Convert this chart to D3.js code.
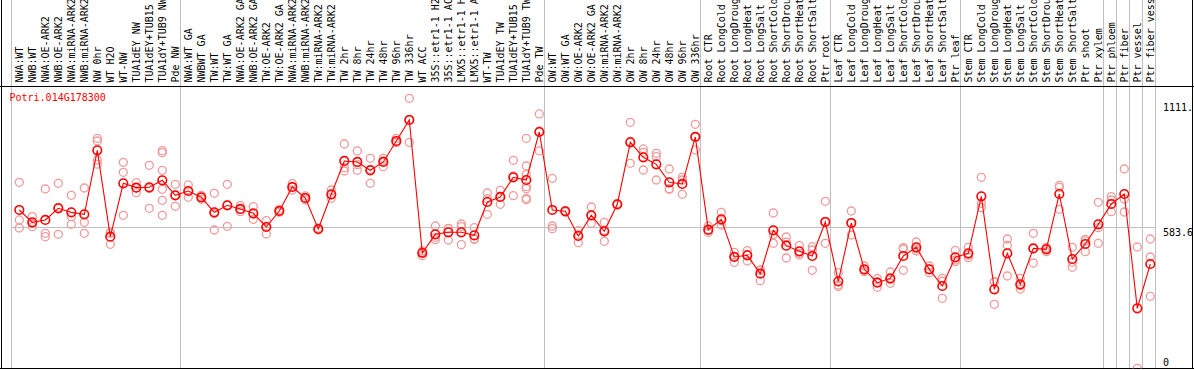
<!DOCTYPE html>
<html><head><meta charset="utf-8">
<script src="https://cdn.jsdelivr.net/npm/d3@7"></script>
<style>body{margin:0;background:#fff;overflow:hidden}</style>
</head><body><svg id="c" width="1194" height="370"></svg>
<script>
const title = "Potri.014G178300";
const categories = [
 "NWA:WT","NWB:WT","NWA:OE-ARK2","NWB:OE-ARK2","NWA:miRNA-ARK2","NWB:miRNA-ARK2","NW 0hr","WT H2O","WT-NW","TUA1dEY NW","TUA1dEY+TUB15 NW","TUA1dY+TUB9 NW","Pde NW",
 "NWA:WT GA","NWBWT GA","TW:WT","TW:WT GA","NWA:OE-ARK2 GA","NWB:OE-ARK2 GA","TW:OE-ARK2","TW:OE-ARK2 GA","NWA:miRNA-ARK2","NWB:miRNA-ARK2","TW:miRNA-ARK2","TW:miRNA-ARK2","TW 2hr","TW 8hr","TW 24hr","TW 48hr","TW 96hr","TW 336hr","WT ACC","35S::etr1-1 H2O","35S::etr1-1 ACC","LMX5::etr1-1 H2O","LMX5::etr1-1 ACC","WT-TW","TUA1dEY TW","TUA1dEY+TUB15 TW","TUA1dY+TUB9 TW","Pde TW",
 "OW:WT","OW:WT GA","OW:OE-ARK2","OW:OE-ARK2 GA","OW:miRNA-ARK2","OW:miRNA-ARK2","OW 2hr","OW 8hr","OW 24hr","OW 48hr","OW 96hr","OW 336hr",
 "Root CTR","Root LongCold","Root LongDrought","Root LongHeat","Root LongSalt","Root ShortCold","Root ShortDrought","Root ShortHeat","Root ShortSalt","Ptr root",
 "Leaf CTR","Leaf LongCold","Leaf LongDrought","Leaf LongHeat","Leaf LongSalt","Leaf ShortCold","Leaf ShortDrought","Leaf ShortHeat","Leaf ShortSalt","Ptr leaf",
 "Stem CTR","Stem LongCold","Stem LongDrought","Stem LongHeat","Stem LongSalt","Stem ShortCold","Stem ShortDrought","Stem ShortHeat","Stem ShortSalt","Ptr shoot","Ptr xylem",
 "Ptr phloem","Ptr fiber","Ptr vessel","Ptr fiber vessel"
];
// index of last category in each group
const groupEnds = [12, 40, 52, 62, 72, 83, 84, 85, 86, 87];
const means = [
 654.7,604.2,613.8,661.5,645.1,636.9,898.8,545.6,763.8,746.1,747.4,776.1,714.7,
 732.4,706.5,645.1,673.8,658.8,641.0,585.1,650.6,748.8,703.8,576.9,718.8,855.2,851.1,817.0,851.1,937.0,1022.9,478.7,555.1,563.3,563.3,551.0,687.4,707.9,788.3,777.4,973.8,
 654.7,649.2,548.3,632.9,567.4,677.9,931.5,870.2,841.5,767.9,761.1,953.4,
 574.2,616.5,462.4,469.2,394.2,571.5,508.7,485.6,466.5,605.6,
 362.8,601.5,411.9,357.3,375.1,466.5,501.9,411.9,343.7,461.0,
 477.4,710.6,330.1,477.4,350.5,497.8,493.7,720.1,454.2,515.6,596.0,
 679.2,720.1,252.3,433.7
];
const replicates = [
 [767.9,613.8,581.0],[627.4,586.5,600.0],[740.6,559.2,545.6],[763.8,555.1,665.6],[714.7,627.4,596.0],[744.7,604.2,559.2],
 [947.9,937.0,859.3,842.0],[561.9,514.2,560.0],[849.7,808.8,632.9],[766.5,725.6,746.0],[837.4,661.5,743.0],
 [897.4,889.3,817.0,739.2,694.2,632.9],[759.7,669.7,714.0],
 [757.0,706.5,733.0],[714.7,698.3,706.0],[722.9,572.8,640.0],[759.7,587.8,674.0],[672.4,647.9,656.0],[668.3,616.5,638.0],
 [611.0,556.5,588.0],[657.4,645.1,650.0],[762.4,736.5,748.0],[712.0,695.6,704.0],[572.8,581.0,577.0],[736.5,702.4,717.0],
 [924.7,827.9,814.2],[896.1,817.0,840.0],[866.1,763.8,821.0],[866.1,832.0,855.0],[947.9,930.2,933.0],[1111.6,931.5,1025.0],
 [486.9,467.8,481.0],[589.2,533.3,543.0],[579.7,531.9,578.0],[597.4,586.5,512.8],[582.4,536.0,535.0],[724.2,636.9,701.0],
 [735.1,677.9,710.0],[857.9,713.3,794.0],[947.9,834.7,799.2,750.1,742.0,702.4,697.0],[1047.5,896.1,978.0],
 [784.2,589.2,578.3],[652.0,647.0],[570.1,521.0,554.0],[666.9,600.1,632.0],[604.2,526.5,571.0],[680.0,676.0],
 [1013.4,845.6,935.0],[904.3,890.6,818.3],[886.5,872.9,777.4],[822.4,739.2,742.0],[788.3,777.4,718.8],[1005.2,900.2,955.0],
 [589.2,570.1,563.0],[645.1,593.3,611.0],[481.5,440.5,465.0],[488.3,446.0,473.0],[409.2,365.5,408.0],[642.4,518.3,554.0],
 [544.2,458.3,523.0],[508.7,477.4,471.0],[504.6,491.0,407.8],[690.1,518.3,608.0],
 [398.3,347.8,342.0],[650.6,552.4,602.0],[425.5,402.4,408.0],[373.7,338.2,360.0],[401.0,354.6,370.0],[500.6,495.1,407.8],
 [523.7,486.9,495.0],[425.5,398.3,412.0],[375.1,293.2,363.0],[489.6,443.3,450.0],
 [501.9,459.6,470.0],[788.3,682.0,664.2],[361.4,268.7,360.0],[536.0,510.1,384.6],[375.1,331.4,345.0],[559.2,437.8,496.0],
 [501.9,484.2,495.0],[747.4,657.4,755.0],[501.9,420.1,441.0],[534.6,484.2,528.0],[686.0,582.4,518.3],
 [709.2,695.6,647.9],[822.4,699.7,646.5],[503.3,6.8],[536.0,462.4,301.4]
];
const yMax = 1111.6;
const yTicks = [0, 583.6, 1111.6];
const yTickLabels = ["0", "583.6", "1111."];

const svg = d3.select("#c");
const W = 1194, H = 370;
const font = "'DejaVu Sans Mono', monospace";
const x = d3.scaleBand().domain(d3.range(categories.length)).range([11.3, 11.3 + 13 * categories.length]).padding(0);
const cx = i => x(i) + 8;
const y = d3.scaleLinear().domain([0, yMax]).range([370, 98.3]);
const plotTop = 87, plotBottom = 368.5, plotRight = x.range()[1];

svg.append("defs").append("clipPath").attr("id", "clip")
  .append("rect").attr("x", 2).attr("y", plotTop).attr("width", W - 4).attr("height", plotBottom - plotTop);

// group separators (full height)
const sepX = [x.range()[0]].concat(groupEnds.map(i => x(i) + x.step()));
svg.append("g").selectAll("line").data(sepX).join("line")
  .attr("x1", d => d).attr("x2", d => d).attr("y1", 0).attr("y2", plotBottom)
  .attr("stroke", "#c0c0c0").attr("stroke-width", 1).attr("shape-rendering", "crispEdges");

// horizontal gridline
svg.append("line").attr("x1", x.range()[0]).attr("x2", plotRight)
  .attr("y1", y(583.6)).attr("y2", y(583.6))
  .attr("stroke", "#c0c0c0").attr("stroke-width", 1).attr("shape-rendering", "crispEdges");

// header labels
svg.append("g").selectAll("text").data(categories).join("text")
  .attr("transform", (d, i) => `translate(${cx(i) + 3.2},82.5) rotate(-90)`)
  .attr("font-family", font).attr("font-size", 10).attr("fill", "#000")
  .text(d => d);

// frame
const frame = svg.append("g").attr("stroke", "#000").attr("stroke-width", 1).attr("shape-rendering", "crispEdges");
frame.append("line").attr("x1", 0).attr("x2", W).attr("y1", 86.5).attr("y2", 86.5);
frame.append("line").attr("x1", 1.5).attr("x2", 1.5).attr("y1", 0).attr("y2", 369);
frame.append("line").attr("x1", 1192.5).attr("x2", 1192.5).attr("y1", 0).attr("y2", 369);
frame.append("line").attr("x1", 0).attr("x2", W).attr("y1", 368.5).attr("y2", 368.5);

// title
svg.append("text").attr("x", 9.5).attr("y", 100.5).attr("font-family", font).attr("font-size", 10)
  .attr("fill", "#ff0000").text(title);

// right axis
const axis = d3.axisRight(y).tickValues(yTicks).tickSize(0).tickPadding(0)
  .tickFormat((d, i) => yTickLabels[i]);
const ag = svg.append("g").attr("transform", `translate(1163,0)`).call(axis);
ag.select(".domain").remove();
ag.selectAll(".tick").attr("transform", d => `translate(0,${Math.max(111.3, Math.min(365.7, y(d) + 8.3))})`);
ag.selectAll(".tick text").attr("dy", 0).attr("x", 0).attr("text-anchor", "start")
  .attr("font-family", font).attr("font-size", 10).attr("fill", "#000");

const plot = svg.append("g").attr("clip-path", "url(#clip)");
// replicates
const reps = [];
replicates.forEach((arr, i) => arr.forEach(v => reps.push({i, v})));
plot.append("g").selectAll("circle").data(reps).join("circle")
  .attr("cx", d => cx(d.i)).attr("cy", d => y(d.v)).attr("r", 4)
  .attr("fill", "none").attr("stroke", "#f09a9a").attr("stroke-width", 1.3);
// line
plot.append("path").datum(means)
  .attr("d", d3.line().x((d, i) => cx(i)).y(d => y(d)))
  .attr("fill", "none").attr("stroke", "#ff0000").attr("stroke-width", 1.1);
// means
plot.append("g").selectAll("circle").data(means).join("circle")
  .attr("cx", (d, i) => cx(i)).attr("cy", d => y(d)).attr("r", 4.3)
  .attr("fill", "none").attr("stroke", "#ff0000").attr("stroke-width", 1.6);
</script>
</body></html>
